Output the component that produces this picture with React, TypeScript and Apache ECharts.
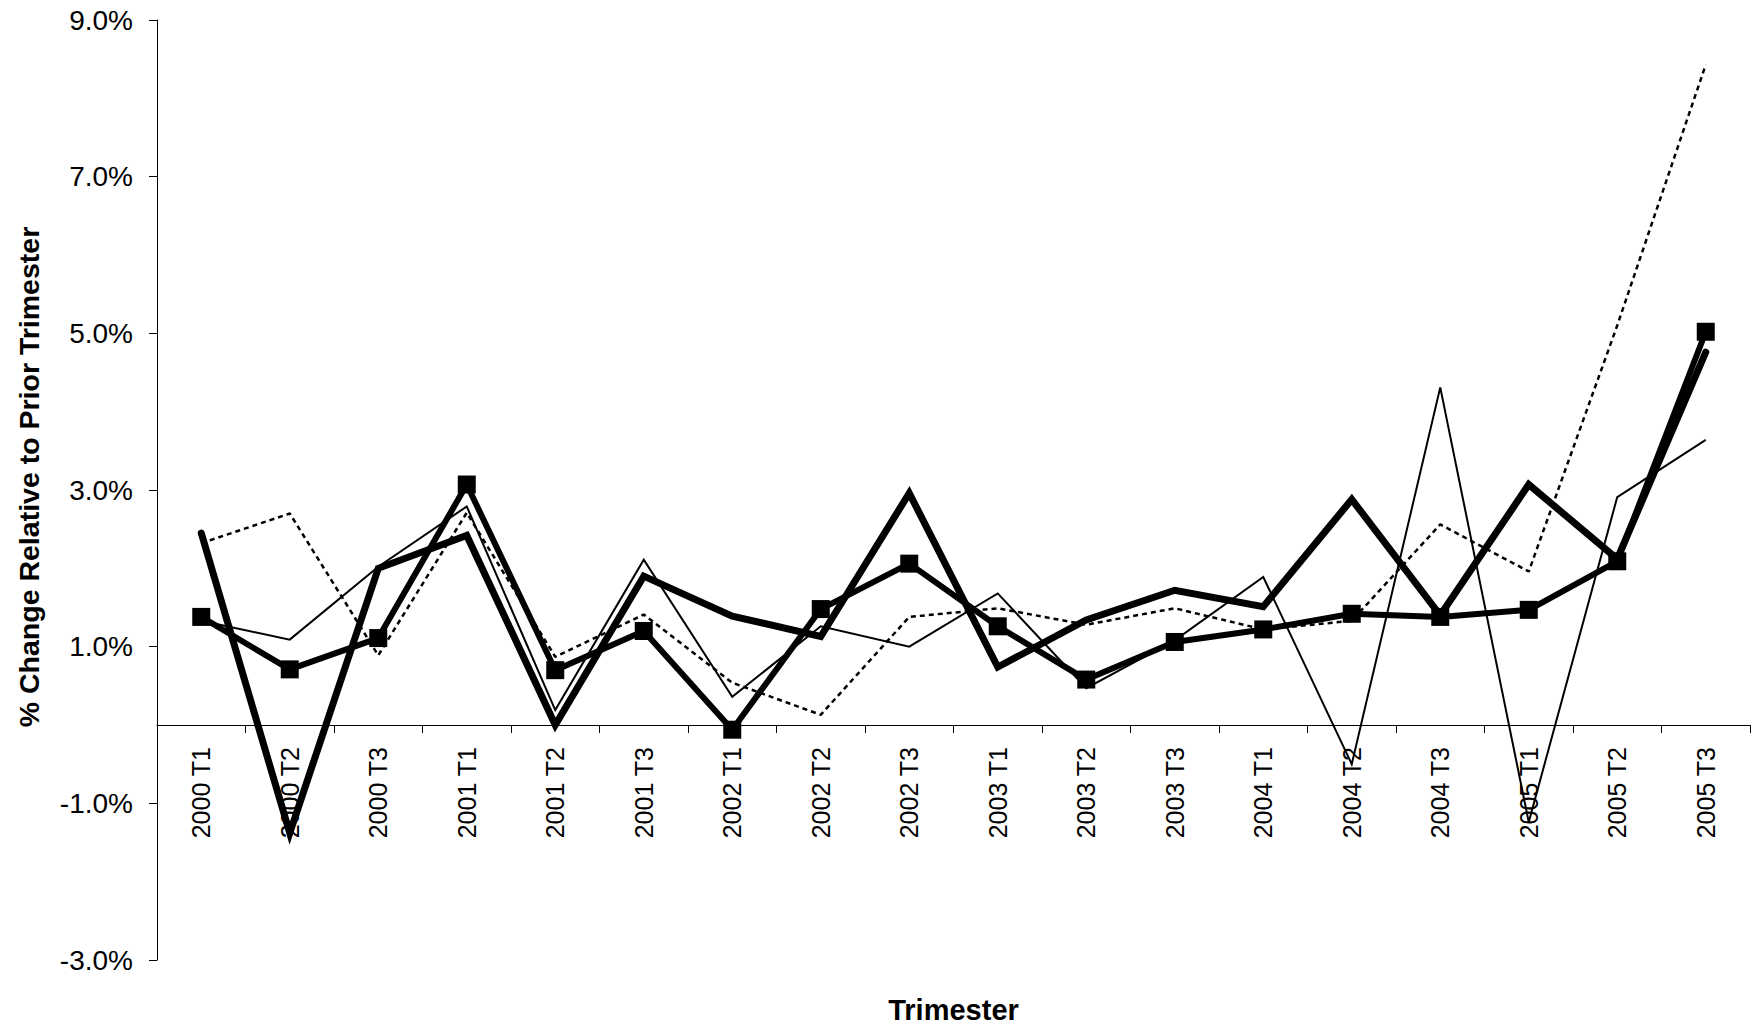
import React, { useEffect, useRef } from "react";
import * as echarts from "echarts";

const categories = [
  "2000 T1", "2000 T2", "2000 T3",
  "2001 T1", "2001 T2", "2001 T3",
  "2002 T1", "2002 T2", "2002 T3",
  "2003 T1", "2003 T2", "2003 T3",
  "2004 T1", "2004 T2", "2004 T3",
  "2005 T1", "2005 T2", "2005 T3",
];

// thick line with square markers
const seriesSquares = [1.38, 0.71, 1.11, 3.07, 0.70, 1.20, -0.06, 1.48, 2.06, 1.26, 0.58, 1.06, 1.22, 1.42, 1.38, 1.47, 2.09, 5.02];
// thick line, no markers
const seriesThick = [2.45, -1.38, 2.00, 2.42, 0.0, 1.90, 1.39, 1.13, 2.96, 0.74, 1.34, 1.72, 1.51, 2.88, 1.40, 3.07, 2.12, 4.76];
// thin solid line
const seriesThin = [1.33, 1.09, 2.02, 2.79, 0.19, 2.11, 0.36, 1.26, 1.00, 1.68, 0.47, 1.08, 1.89, -0.50, 4.31, -1.24, 2.91, 3.64];
// dotted line
const seriesDotted = [2.32, 2.70, 0.89, 2.71, 0.87, 1.41, 0.54, 0.13, 1.38, 1.49, 1.28, 1.49, 1.22, 1.33, 2.56, 1.96, 5.10, 8.43];

const yMin = -3;
const yMax = 9;
const yStep = 2;

const FONT = "'Liberation Sans', Arial, Helvetica, sans-serif";

const GRID_TOP = 20;
const GRID_BOTTOM = 66;
const CHART_H = 1026;

export default function App() {
  const ref = useRef<HTMLDivElement>(null);

  useEffect(() => {
    if (!ref.current) return;
    const chart = echarts.init(ref.current, undefined, { renderer: "svg" });
    const plotH = CHART_H - GRID_TOP - GRID_BOTTOM;
    // distance from grid bottom up to the zero line (x axis sits on zero)
    const zeroOffset = -plotH * (0 - yMin) / (yMax - yMin);
    chart.setOption({
      animation: false,
      backgroundColor: "#ffffff",
      textStyle: { fontFamily: FONT, color: "#000" },
      grid: { left: 157, right: 9, top: GRID_TOP, bottom: GRID_BOTTOM, containLabel: false, outerBoundsMode: "none" },
      xAxis: {
        type: "category",
        data: categories,
        boundaryGap: true,
        position: "bottom",
        offset: zeroOffset,
        name: "Trimester",
        nameLocation: "middle",
        nameGap: 270,
        nameTextStyle: { fontFamily: FONT, fontSize: 29, fontWeight: "bold", color: "#000" },
        axisLine: { onZero: false, lineStyle: { color: "#000", width: 1 } },
        axisTick: { show: true, inside: false, length: 8, lineStyle: { color: "#000", width: 1 } },
        axisLabel: {
          interval: 0,
          rotate: 90,
          margin: 22,
          fontFamily: FONT,
          fontSize: 25,
          color: "#000",
        },
        splitLine: { show: false },
      },
      yAxis: {
        type: "value",
        min: yMin,
        max: yMax,
        interval: yStep,
        name: "% Change Relative to Prior Trimester",
        nameLocation: "middle",
        nameGap: 114,
        nameTextStyle: {
          fontFamily: FONT,
          fontSize: 28.5,
          fontWeight: "bold",
          color: "#000",
          padding: [0, 0, 0, 26],
        },
        axisLine: { show: true, lineStyle: { color: "#000", width: 1 } },
        axisTick: { show: true, inside: false, length: 8, lineStyle: { color: "#000", width: 1 } },
        axisLabel: {
          margin: 24,
          fontFamily: FONT,
          fontSize: 28,
          color: "#000",
          formatter: (v: number) => v.toFixed(1) + "%",
        },
        splitLine: { show: false },
      },
      series: [
        {
          name: "Dotted",
          type: "line",
          data: seriesDotted,
          symbol: "none",
          lineStyle: { color: "#000", width: 2.5, type: [5, 4] },
          z: 2,
        },
        {
          name: "Thin",
          type: "line",
          data: seriesThin,
          symbol: "none",
          lineStyle: { color: "#000", width: 2, join: "miter" },
          z: 3,
        },
        {
          name: "Thick",
          type: "line",
          data: seriesThick,
          symbol: "none",
          lineStyle: { color: "#000", width: 7, join: "miter", cap: "round" },
          z: 4,
        },
        {
          name: "Squares",
          type: "line",
          data: seriesSquares,
          symbol: "rect",
          symbolSize: 18,
          showAllSymbol: true,
          itemStyle: { color: "#000" },
          lineStyle: { color: "#000", width: 6, join: "round" },
          z: 5,
        },
      ],
    });
    return () => chart.dispose();
  }, []);

  return (
    <div
      ref={ref}
      style={{ position: "fixed", left: 0, top: 0, width: 1759, height: 1026, background: "#fff" }}
    />
  );
}
